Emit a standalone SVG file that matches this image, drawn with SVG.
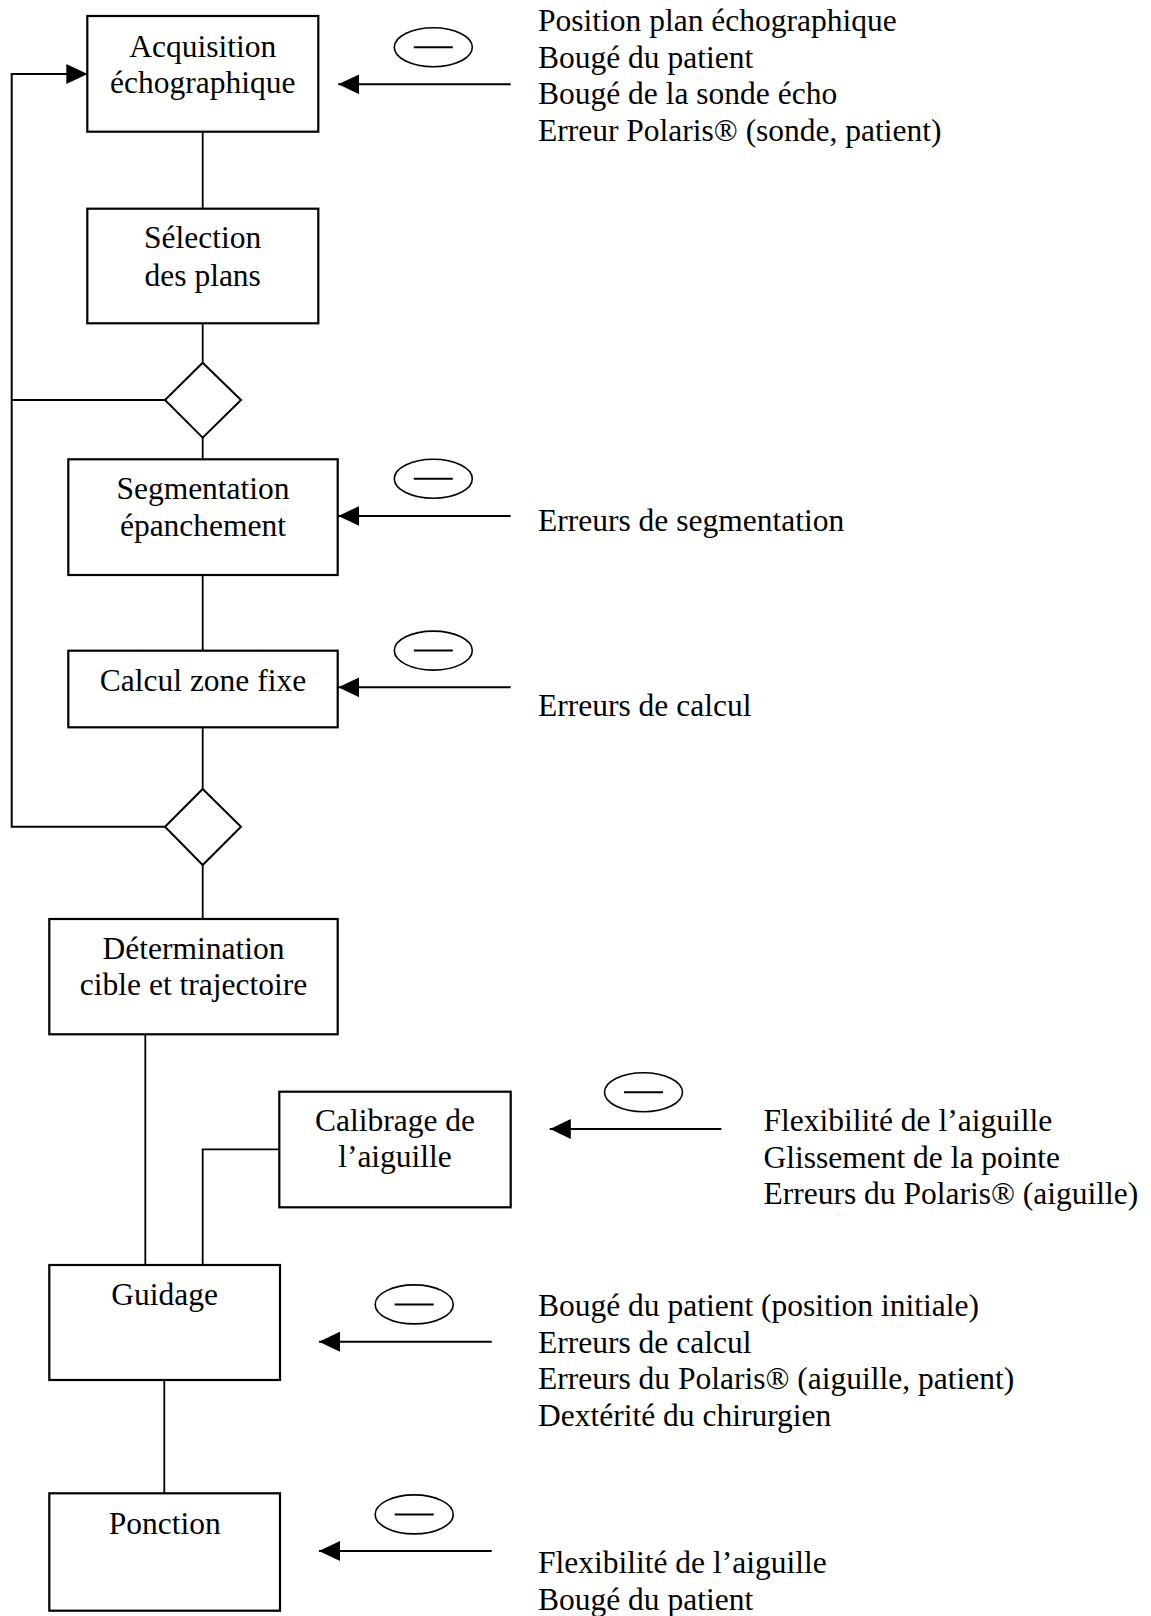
<svg xmlns="http://www.w3.org/2000/svg" width="1151" height="1616" viewBox="0 0 1151 1616">
  <style>
    .box { fill: #fff; stroke: #000; stroke-width: 2.2; }
    .dec { fill: #fff; stroke: #000; stroke-width: 2; }
    .lbl { font-family: "Liberation Serif", "Times New Roman", serif; font-size: 31.5px; fill: #000; }
    .mid { text-anchor: middle; }
    .wire { fill: none; stroke: #000; stroke-width: 1.8; }
    .feed { fill: none; stroke: #000; stroke-width: 2; }
    .neg ellipse { fill: none; stroke: #000; stroke-width: 1.6; }
    .neg line { stroke: #000; stroke-width: 2; }
  </style>
  <defs>
    <marker id="head" markerUnits="userSpaceOnUse" markerWidth="21" markerHeight="20" refX="21" refY="10" orient="auto">
      <path d="M0,0 L21,10 L0,20 z" fill="#000"/>
    </marker>
    <g id="minus" class="neg">
      <ellipse cx="0" cy="0" rx="39" ry="19.5"/>
      <line x1="-19.5" y1="0" x2="19.5" y2="0"/>
    </g>
  </defs>
  <rect width="1151" height="1616" fill="#fff"/>

  <!-- connectors -->
  <g id="connectors">
    <line class="wire" x1="202.7" y1="131.7" x2="202.7" y2="208.7"/>
    <line class="wire" x1="202.7" y1="323.3" x2="202.7" y2="362.7"/>
    <line class="wire" x1="202.7" y1="437.7" x2="202.7" y2="459.3"/>
    <line class="wire" x1="202.7" y1="575" x2="202.7" y2="650.7"/>
    <line class="wire" x1="202.7" y1="727.3" x2="202.7" y2="789"/>
    <line class="wire" x1="202.7" y1="865" x2="202.7" y2="919"/>
    <line class="wire" x1="145.3" y1="1034.3" x2="145.3" y2="1265"/>
    <path class="wire" d="M279.3,1149.3 H202.7 V1265"/>
    <line class="wire" x1="164.3" y1="1380" x2="164.3" y2="1493.3"/>
    <!-- loop back to acquisition -->
    <path class="feed" d="M165,826.7 H11.7 V74 H87.3" marker-end="url(#head)"/>
    <line class="feed" x1="165" y1="400" x2="11.7" y2="400"/>
    <!-- disturbance arrows -->
    <line class="feed" x1="510.7" y1="84.3" x2="338.3" y2="84.3" marker-end="url(#head)"/>
    <line class="feed" x1="510.7" y1="516" x2="338.3" y2="516" marker-end="url(#head)"/>
    <line class="feed" x1="510.7" y1="687.3" x2="338.3" y2="687.3" marker-end="url(#head)"/>
    <line class="feed" x1="721.4" y1="1129" x2="549.8" y2="1129" marker-end="url(#head)"/>
    <line class="feed" x1="491.7" y1="1341.7" x2="319" y2="1341.7" marker-end="url(#head)"/>
    <line class="feed" x1="491.7" y1="1551" x2="319" y2="1551" marker-end="url(#head)"/>
  </g>

  <!-- process steps -->
  <g id="acquisition">
    <rect class="box" x="87.3" y="16" width="231" height="115.7"/>
    <text class="lbl mid" x="202.7" y="56.7">Acquisition</text>
    <text class="lbl mid" x="202.7" y="92.7">échographique</text>
  </g>
  <g id="selection">
    <rect class="box" x="87.3" y="208.7" width="231" height="114.6"/>
    <text class="lbl mid" x="202.7" y="248.3">Sélection</text>
    <text class="lbl mid" x="202.7" y="285.5">des plans</text>
  </g>
  <g id="decision1">
    <polygon class="dec" points="202.7,362.7 241,400 202.7,437.7 165,400"/>
  </g>
  <g id="segmentation">
    <rect class="box" x="68.3" y="459.3" width="269.4" height="115.7"/>
    <text class="lbl mid" x="203" y="499.3">Segmentation</text>
    <text class="lbl mid" x="203" y="536">épanchement</text>
  </g>
  <g id="calcul">
    <rect class="box" x="68.3" y="650.7" width="269.4" height="76.6"/>
    <text class="lbl mid" x="203" y="690.7">Calcul zone fixe</text>
  </g>
  <g id="decision2">
    <polygon class="dec" points="202.7,789 241,826.7 202.7,865 165,826.7"/>
  </g>
  <g id="determination">
    <rect class="box" x="49.3" y="919" width="288.4" height="115.3"/>
    <text class="lbl mid" x="193.5" y="959">Détermination</text>
    <text class="lbl mid" x="193.5" y="995">cible et trajectoire</text>
  </g>
  <g id="calibrage">
    <rect class="box" x="279.3" y="1091.7" width="231.4" height="115.6"/>
    <text class="lbl mid" x="395" y="1130.7">Calibrage de</text>
    <text class="lbl mid" x="395" y="1167.3">l’aiguille</text>
  </g>
  <g id="guidage">
    <rect class="box" x="49.3" y="1265" width="230.7" height="115"/>
    <text class="lbl mid" x="164.7" y="1305">Guidage</text>
  </g>
  <g id="ponction">
    <rect class="box" x="49.3" y="1493.3" width="230.7" height="117.4"/>
    <text class="lbl mid" x="164.7" y="1534">Ponction</text>
  </g>

  <!-- error sources (negative influence) -->
  <g id="err-acquisition">
    <use href="#minus" x="433.3" y="47.3"/>
    <text class="lbl" x="538" y="31">Position plan échographique</text>
    <text class="lbl" x="538" y="67.5">Bougé du patient</text>
    <text class="lbl" x="538" y="104.3">Bougé de la sonde écho</text>
    <text class="lbl" x="538" y="141">Erreur Polaris® (sonde, patient)</text>
  </g>
  <g id="err-segmentation">
    <use href="#minus" x="433.3" y="478.8"/>
    <text class="lbl" x="538" y="530.5">Erreurs de segmentation</text>
  </g>
  <g id="err-calcul">
    <use href="#minus" x="433.3" y="650.6"/>
    <text class="lbl" x="538" y="716">Erreurs de calcul</text>
  </g>
  <g id="err-calibrage">
    <use href="#minus" x="643.5" y="1092.3"/>
    <text class="lbl" x="763.5" y="1131">Flexibilité de l’aiguille</text>
    <text class="lbl" x="763.5" y="1167.5">Glissement de la pointe</text>
    <text class="lbl" x="763.5" y="1204.3">Erreurs du Polaris® (aiguille)</text>
  </g>
  <g id="err-guidage">
    <use href="#minus" x="414.2" y="1304.4"/>
    <text class="lbl" x="538" y="1316">Bougé du patient (position initiale)</text>
    <text class="lbl" x="538" y="1352.7">Erreurs de calcul</text>
    <text class="lbl" x="538" y="1389">Erreurs du Polaris® (aiguille, patient)</text>
    <text class="lbl" x="538" y="1425.5">Dextérité du chirurgien</text>
  </g>
  <g id="err-ponction">
    <use href="#minus" x="414.2" y="1514.4"/>
    <text class="lbl" x="538" y="1573.3">Flexibilité de l’aiguille</text>
    <text class="lbl" x="538" y="1610">Bougé du patient</text>
  </g>
</svg>
